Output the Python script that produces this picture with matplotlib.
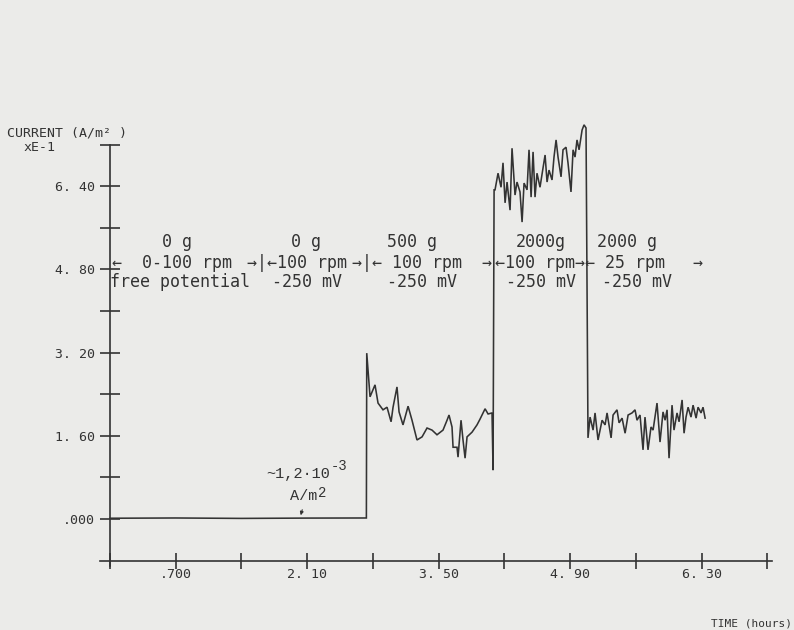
import matplotlib
matplotlib.use("Agg")
import matplotlib.pyplot as plt
import numpy as np

# ---- data (time in hours, current in A/m^2 x E-1) ----
time_free = [0.00, 0.70, 1.40, 2.10, 2.73]
cur_free = [0.015, 0.020, 0.012, 0.018, 0.020]

time_500 = [2.734, 2.769, 2.822, 2.854, 2.907, 2.950, 2.993, 3.014, 3.056, 3.078,
            3.120, 3.174, 3.216, 3.269, 3.323, 3.376, 3.429, 3.482, 3.546, 3.589,
            3.610, 3.642, 3.653, 3.695, 3.706, 3.738, 3.759, 3.781, 3.802, 3.855,
            3.908, 3.940, 3.994, 4.026, 4.068, 4.079]
cur_500 = [3.19, 2.35, 2.58, 2.23, 2.10, 2.15, 1.87, 2.15, 2.54, 2.06,
           1.81, 2.17, 1.90, 1.52, 1.58, 1.75, 1.71, 1.62, 1.71, 1.90,
           2.00, 1.77, 1.38, 1.38, 1.19, 1.90, 1.52, 1.17, 1.58, 1.67,
           1.81, 1.92, 2.12, 2.02, 2.04, 0.94]

time_2000a = [4.090, 4.100, 4.132, 4.164, 4.185, 4.207, 4.228, 4.260, 4.281, 4.313,
              4.334, 4.366, 4.388, 4.409, 4.441, 4.462, 4.484, 4.505, 4.526, 4.547,
              4.579, 4.611, 4.633, 4.654, 4.675, 4.707, 4.728, 4.750, 4.771, 4.803,
              4.824, 4.856, 4.877, 4.909, 4.931, 4.952, 4.973, 4.995, 5.027, 5.048,
              5.069]
cur_2000a = [6.33, 6.33, 6.65, 6.38, 6.85, 6.08, 6.48, 5.94, 7.13, 6.23,
             6.48, 6.29, 5.71, 6.46, 6.33, 7.10, 6.19, 7.06, 6.19, 6.65,
             6.38, 6.75, 7.00, 6.48, 6.71, 6.52, 6.96, 7.29, 6.96, 6.58,
             7.10, 7.15, 6.85, 6.29, 7.10, 6.96, 7.29, 7.10, 7.48, 7.58,
             7.52]

time_2000b = [5.090, 5.112, 5.144, 5.165, 5.197, 5.240, 5.272, 5.293, 5.336, 5.357,
              5.399, 5.421, 5.453, 5.485, 5.517, 5.559, 5.591, 5.612, 5.644, 5.676,
              5.697, 5.729, 5.761, 5.783, 5.825, 5.857, 5.889, 5.911, 5.932, 5.953,
              5.985, 6.006, 6.038, 6.060, 6.092, 6.113, 6.134, 6.156, 6.187, 6.209,
              6.241, 6.262, 6.294, 6.315, 6.337]
cur_2000b = [1.56, 1.96, 1.71, 2.04, 1.52, 1.90, 1.81, 2.04, 1.56, 2.00,
             2.10, 1.85, 1.94, 1.65, 2.00, 2.04, 2.10, 1.90, 2.00, 1.33,
             1.96, 1.33, 1.77, 1.71, 2.23, 1.48, 2.06, 1.90, 2.10, 1.17,
             2.19, 1.71, 2.04, 1.87, 2.29, 1.65, 1.96, 2.15, 1.96, 2.19,
             1.94, 2.15, 2.04, 2.15, 1.94]

x_major = [0.7, 2.1, 3.5, 4.9, 6.3]
x_major_labels = [".700", "2. 10", "3. 50", "4. 90", "6. 30"]
x_minor = [0.0, 1.4, 2.8, 4.2, 5.6, 7.0]
y_major = [0.0, 1.6, 3.2, 4.8, 6.4]
y_major_labels = [".000", "1. 60", "3. 20", "4. 80", "6. 40"]
y_minor = [0.8, 2.4, 4.0, 5.6, 7.2]

# ---- styling ----
BG = "#ebebe9"
INK = "#333333"
MONO = ["DejaVu Sans Mono", "DejaVu Sans"]
plt.rcParams["font.family"] = MONO

fig = plt.figure(figsize=(7.94, 6.30), dpi=100, facecolor=BG)
ax = fig.add_axes([0.1149, 0.0771, 0.8752, 0.7594], facecolor=BG)

t = np.concatenate([time_free, time_500, time_2000a, time_2000b])
c = np.concatenate([cur_free, cur_500, cur_2000a, cur_2000b])
ax.plot(t, c, color=INK, lw=1.15, solid_joinstyle="miter")

ax.set_xlim(-0.2, 7.2)
ax.set_ylim(-1.2, 8.0)

for s in ("top", "right"):
    ax.spines[s].set_visible(False)
ax.spines["left"].set_position(("data", 0.0))
ax.spines["bottom"].set_position(("data", -0.8))
ax.spines["left"].set_bounds(-0.9, 7.2)
ax.spines["bottom"].set_bounds(-0.106, 7.05)
for s in ("left", "bottom"):
    ax.spines[s].set_color(INK)
    ax.spines[s].set_linewidth(1.2)

ax.set_xticks(x_major)
ax.set_xticklabels(x_major_labels)
ax.set_xticks(x_minor, minor=True)
ax.set_yticks(y_major)
ax.set_yticklabels(y_major_labels)
ax.set_yticks(y_minor, minor=True)
ax.tick_params(axis="both", which="both", direction="inout", color=INK,
               width=1.2, labelcolor=INK, labelsize=9.5)
ax.tick_params(axis="x", which="both", length=11, pad=0)
ax.tick_params(axis="y", which="both", length=14, pad=4)

# ---- axis titles ----
fig.text(7 / 794, 1 - 136 / 630, "CURRENT (A/m\u00b2 )", fontsize=9.5,
         color=INK, ha="left", va="baseline")
fig.text(23 / 794, 1 - 151 / 630, "xE-1", fontsize=9.5, color=INK,
         ha="left", va="baseline")
fig.text(792 / 794, 1 - 626 / 630, "TIME (hours)", fontsize=8, color=INK,
         ha="right", va="baseline")

# ---- condition annotations ----
FS = 12
row1, row2, row3 = 5.23, 4.83, 4.46
for x, s in [(0.714, "0 g"), (2.087, "0 g"), (3.216, "500 g"),
             (4.590, "2000g"), (5.506, "2000 g")]:
    ax.text(x, row1, s, fontsize=FS, color=INK, ha="center", va="baseline")
for x, s in [(0.745, "free potential"), (2.098, "-250 mV"), (3.323, "-250 mV"),
             (4.590, "-250 mV"), (5.612, "-250 mV")]:
    ax.text(x, row3, s, fontsize=FS, color=INK, ha="center", va="baseline")
# middle row: rpm with boundary arrows (left-aligned runs)
for x, s in [(0.02, "\u2190  0-100 rpm"), (1.46, "\u2192|\u2190100 rpm"),
             (2.58, "\u2192|\u2190 100 rpm"), (3.95, "\u2192"),
             (4.10, "\u2190100 rpm\u2192\u2190 25 rpm"), (6.20, "\u2192")]:
    ax.text(x, row2, s, fontsize=FS, color=INK, ha="left", va="baseline")

# ---- baseline current annotation ----
ANN = ["Liberation Mono", "DejaVu Sans Mono"]
ax.text(2.0, 0.79, "~1,2\u00b710", fontsize=11, color=INK, ha="center",
        va="baseline", family=ANN)
ax.text(2.355, 0.95, "-3", fontsize=10, color=INK, ha="left", va="baseline",
        family=ANN)
ax.text(2.21, 0.365, "A/m", fontsize=11, color=INK, ha="right", va="baseline",
        family=ANN)
ax.text(2.21, 0.42, "2", fontsize=10, color=INK, ha="left", va="baseline",
        family=ANN)
ax.annotate("", xy=(2.023, 0.02), xytext=(2.055, 0.23),
            arrowprops=dict(arrowstyle="-|>", color=INK, lw=0.8,
                            mutation_scale=5))

fig.savefig("out.png", dpi=100, facecolor=BG)
